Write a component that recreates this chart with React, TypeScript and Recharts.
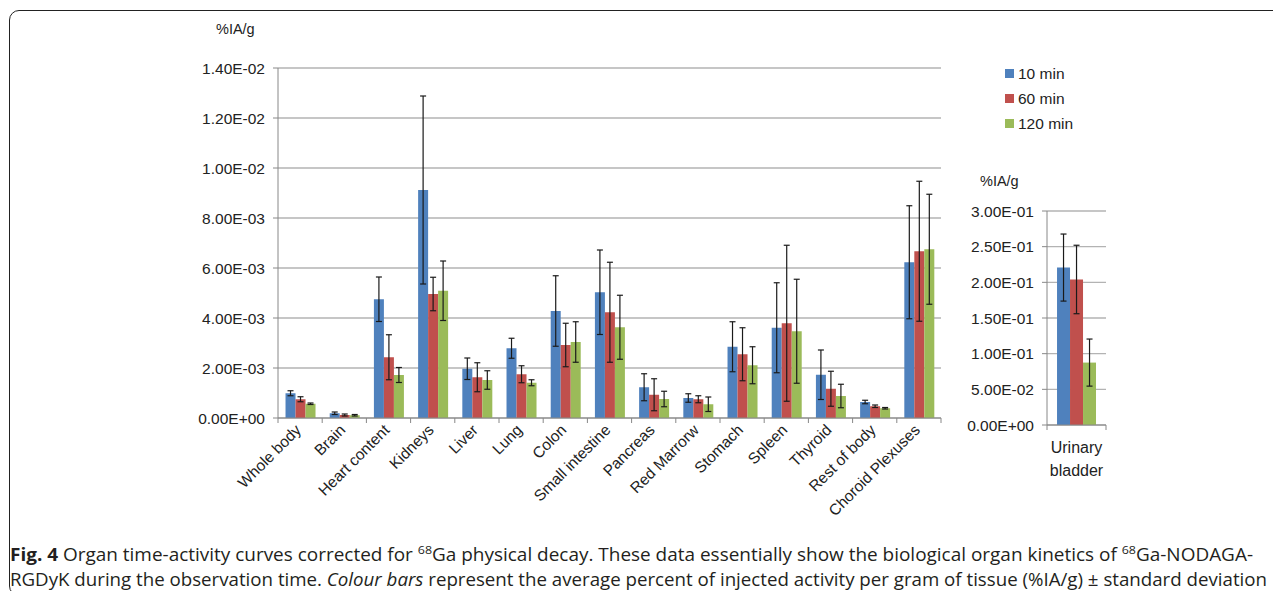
import React from "react";
import { BarChart, Bar, XAxis, YAxis, CartesianGrid, ErrorBar } from "recharts";

const organs = [
  "Whole body",
  "Brain",
  "Heart content",
  "Kidneys",
  "Liver",
  "Lung",
  "Colon",
  "Small intestine",
  "Pancreas",
  "Red Marrorw",
  "Stomach",
  "Spleen",
  "Thyroid",
  "Rest of body",
  "Choroid Plexuses",
];
const min10 = [0.00099, 0.00019, 0.00475, 0.00912, 0.00197, 0.00279, 0.00428, 0.00503, 0.00123, 0.0008, 0.00285, 0.00361, 0.00173, 0.00064, 0.00623];
const sd10 = [0.0001, 0.00005, 0.00089, 0.00376, 0.00043, 0.0004, 0.00141, 0.00169, 0.00054, 0.00017, 0.001, 0.0018, 0.00099, 0.00007, 0.00226];
const min60 = [0.00075, 0.00012, 0.00243, 0.00496, 0.00163, 0.00175, 0.00292, 0.00423, 0.00093, 0.00075, 0.00255, 0.00379, 0.00117, 0.00047, 0.00667];
const sd60 = [0.0001, 0.00004, 0.0009, 0.00067, 0.00058, 0.00034, 0.00087, 0.002, 0.00064, 0.00014, 0.00106, 0.00312, 0.0007, 0.00005, 0.0028];
const min120 = [0.00057, 0.00011, 0.00172, 0.00509, 0.00152, 0.00141, 0.00304, 0.00363, 0.00076, 0.00055, 0.00211, 0.00347, 0.00088, 0.00039, 0.00675];
const sd120 = [0.00003, 0.00003, 0.0003, 0.00119, 0.00037, 0.00012, 0.00081, 0.00128, 0.00031, 0.00029, 0.00074, 0.00208, 0.00047, 0.00003, 0.0022];

const bladderCats = ["Urinary bladder"];
const bladder10 = [0.2207];
const bladderSd10 = [0.047];
const bladder60 = [0.204];
const bladderSd60 = [0.048];
const bladder120 = [0.0875];
const bladderSd120 = [0.033];

const yTicks = [0, 0.002, 0.004, 0.006, 0.008, 0.01, 0.012, 0.014];
const bladderTicks = [0, 0.05, 0.1, 0.15, 0.2, 0.25, 0.3];

const seriesNames = ["10 min", "60 min", "120 min"];
const colors = ["#4F81BD", "#C0504D", "#9BBB59"];

const FONT = "'Liberation Sans', Arial, sans-serif";

const organData = organs.map((name, i) => ({
  name,
  v10: min10[i],
  e10: sd10[i],
  v60: min60[i],
  e60: sd60[i],
  v120: min120[i],
  e120: sd120[i],
}));

const bladderData = bladderCats.map((name, i) => ({
  name,
  v10: bladder10[i],
  e10: bladderSd10[i],
  v60: bladder60[i],
  e60: bladderSd60[i],
  v120: bladder120[i],
  e120: bladderSd120[i],
}));

// excel style scientific labels, e.g. 1.40E-02
const sci = (v: number) => {
  if (v === 0) return "0.00E+00";
  const e = Math.floor(Math.log10(Math.abs(v)) + 1e-9);
  const m = v / Math.pow(10, e);
  return `${m.toFixed(2)}E${e < 0 ? "-" : "+"}${String(Math.abs(e)).padStart(2, "0")}`;
};

const MAIN_W = 960;
const MAIN_PLOT_W = 663;
const half = MAIN_PLOT_W / organs.length / 2;

const OrganTick = (props: any) => {
  const { x, y, payload, index } = props;
  const lx = x + 2;
  const ly = y + 13;
  return (
    <g>
      <line x1={x - half} x2={x - half} y1={y} y2={y + 5} stroke="#888" />
      {index === organs.length - 1 && (
        <line x1={x + half} x2={x + half} y1={y} y2={y + 5} stroke="#888" />
      )}
      <text
        x={lx}
        y={ly}
        textAnchor="end"
        fontSize={15.5}
        fontFamily={FONT}
        fill="#222"
        transform={`rotate(-45, ${lx}, ${ly})`}
      >
        {payload.value}
      </text>
    </g>
  );
};

const BladderTick = (props: any) => {
  const { x, y, payload } = props;
  const words = String(payload.value).split(" ");
  return (
    <g>
      <line x1={x - 29.5} x2={x - 29.5} y1={y} y2={y + 5} stroke="#888" />
      <line x1={x + 29.5} x2={x + 29.5} y1={y} y2={y + 5} stroke="#888" />
      {words.map((w, i) => (
        <text key={w} x={x} y={y + 28 + i * 23} textAnchor="middle" fontSize={16} fontFamily={FONT} fill="#222">
          {w}
        </text>
      ))}
    </g>
  );
};

const renderBars = (capWidth: number) =>
  ["10", "60", "120"].map((k, i) => (
    <Bar key={k} dataKey={`v${k}`} fill={colors[i]} isAnimationActive={false}>
      <ErrorBar dataKey={`e${k}`} direction="y" width={capWidth} stroke="#1a1a1a" strokeWidth={1.2} />
    </Bar>
  ));

const yTick = { fill: "#222", fontSize: 15.5, fontFamily: FONT };

export default function App() {
  return (
    <div
      style={{
        position: "relative",
        width: 1281,
        height: 599,
        margin: -8,
        overflow: "hidden",
        background: "#fff",
        fontFamily: FONT,
        color: "#222",
      }}
    >
      <div
        style={{
          position: "absolute",
          left: 9,
          top: 10,
          width: 1300,
          height: 584,
          border: "1.5px solid #222",
          borderRadius: 10,
        }}
      />

      <div style={{ position: "absolute", left: 216, top: 21, fontSize: 14.5 }}>%IA/g</div>
      <div style={{ position: "absolute", left: 980, top: 173, fontSize: 14.5 }}>%IA/g</div>

      <div style={{ position: "absolute", left: 0, top: 0 }}>
        <BarChart
          width={MAIN_W}
          height={540}
          data={organData}
          margin={{ top: 68, right: MAIN_W - 278 - MAIN_PLOT_W, left: 0, bottom: 0 }}
          barCategoryGap="17%"
          barGap={0}
        >
          <CartesianGrid vertical={false} stroke="#b3b3b3" strokeWidth={1.3} />
          <XAxis
            dataKey="name"
            interval={0}
            height={122}
            tickSize={0}
            tickMargin={0}
            tick={<OrganTick />}
            axisLine={{ stroke: "#888" }}
          />
          <YAxis
            width={278}
            domain={[0, 0.014]}
            ticks={yTicks}
            tickFormatter={sci}
            tickSize={5}
            tickMargin={8}
            axisLine={{ stroke: "#888" }}
            tickLine={{ stroke: "#888" }}
            tick={yTick}
          />
          {renderBars(3)}
        </BarChart>
      </div>

      <div style={{ position: "absolute", left: 940, top: 0 }}>
        <BarChart
          width={180}
          height={500}
          data={bladderData}
          margin={{ top: 211, right: 14, left: 0, bottom: 0 }}
          barCategoryGap="17%"
          barGap={0}
        >
          <CartesianGrid vertical={false} stroke="#b3b3b3" strokeWidth={1.3} />
          <XAxis
            dataKey="name"
            interval={0}
            height={75}
            tickSize={0}
            tickMargin={0}
            tick={<BladderTick />}
            axisLine={{ stroke: "#888" }}
          />
          <YAxis
            width={107}
            domain={[0, 0.3]}
            ticks={bladderTicks}
            tickFormatter={sci}
            tickSize={5}
            tickMargin={8}
            axisLine={{ stroke: "#888" }}
            tickLine={{ stroke: "#888" }}
            tick={yTick}
          />
          {renderBars(3)}
        </BarChart>
      </div>

      <div style={{ position: "absolute", left: 1005, top: 61, fontSize: 15.5 }}>
        {seriesNames.map((s, i) => (
          <div key={s} style={{ display: "flex", alignItems: "center", height: 25 }}>
            <span style={{ width: 9, height: 9, background: colors[i], marginRight: 4 }} />
            <span>{s}</span>
          </div>
        ))}
      </div>

      <svg
        width={1281}
        height={69}
        style={{ position: "absolute", left: 0, top: 530 }}
        fontFamily="'Open Sans', sans-serif"
        fontSize={17.5}
        fill="#231f20"
      >
        <text x={10} y={30.5} textLength={1243} lengthAdjust="spacingAndGlyphs">
          <tspan fontWeight="bold">Fig. 4</tspan>
          <tspan> Organ time-activity curves corrected for </tspan>
          <tspan fontSize={11.5} dy={-6.5}>68</tspan>
          <tspan dy={6.5}>Ga physical decay. These data essentially show the biological organ kinetics of </tspan>
          <tspan fontSize={11.5} dy={-6.5}>68</tspan>
          <tspan dy={6.5}>Ga-NODAGA-</tspan>
        </text>
        <text x={10} y={55.5} textLength={1257} lengthAdjust="spacingAndGlyphs">
          <tspan>RGDyK during the observation time. </tspan>
          <tspan fontStyle="italic">Colour bars</tspan>
          <tspan> represent the average percent of injected activity per gram of tissue (%IA/g) ± standard deviation</tspan>
        </text>
      </svg>
    </div>
  );
}
